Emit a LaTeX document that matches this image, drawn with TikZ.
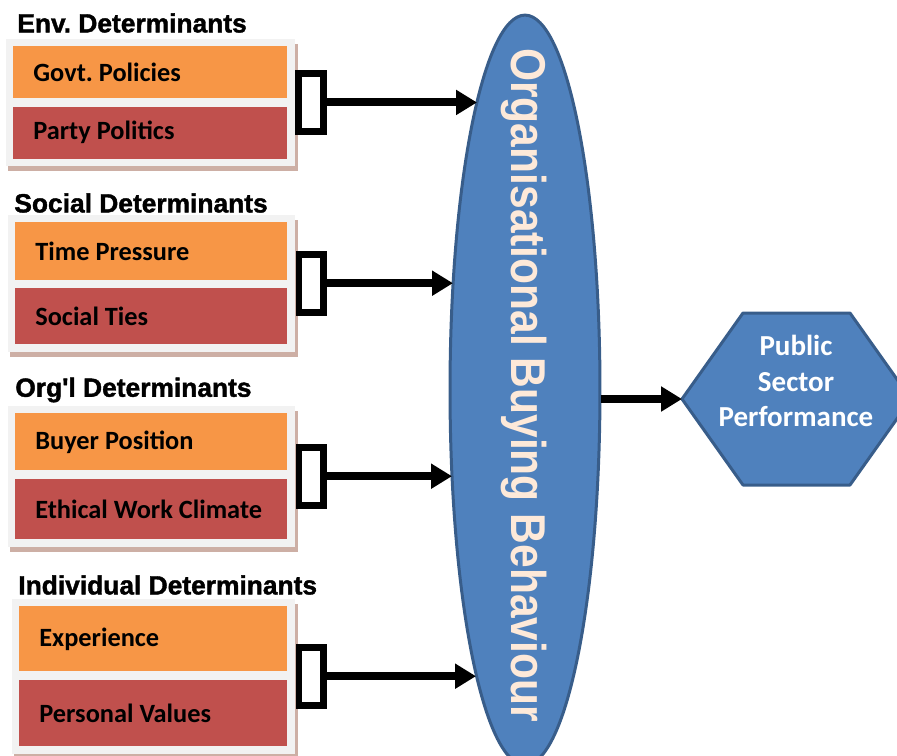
\documentclass[tikz,border=0pt]{standalone}
\usepackage{fontspec}
\setmainfont{Carlito}
\newfontfamily\arialfont{Liberation Sans}
\newfontfamily\headfont[FakeBold=1.5]{Liberation Sans Bold}
\usetikzlibrary{positioning,fit,backgrounds,shadows,shapes.geometric,arrows.meta}

\definecolor{factorange}{HTML}{F79646}
\definecolor{factred}{HTML}{C0504D}
\definecolor{panelgray}{HTML}{F2F2F2}
\definecolor{shapeblue}{HTML}{4F81BD}
\definecolor{shapeedge}{HTML}{385D8A}
\definecolor{peach}{HTML}{FDE9D9}
\definecolor{shadowbrown}{RGB}{205,175,165}

\begin{document}
\frenchspacing
\begin{tikzpicture}[x=0.02cm,y=-0.02cm,>=latex,
    factor/.style={anchor=north west,inner sep=0pt,minimum width=#1},
    factortext/.style={anchor=west,xshift=0.4cm,inner sep=0pt,font=\fontsize{15}{18}\selectfont\bfseries},
    upper/.style={fill=factorange},
    lower/.style={fill=factred},
    panel/.style={fill=panelgray,inner sep=0.15cm,
      drop shadow={shadow xshift=0.05cm,shadow yshift=-0.1cm,fill=shadowbrown,opacity=1}},
    heading/.style={anchor=west,inner sep=0pt,font=\headfont\fontsize{15}{18}\selectfont},
    link/.style={draw,fill=white,line width=0.14cm,minimum width=0.5cm,minimum height=1.16cm,inner sep=0pt},
    arr/.style={line width=0.16cm,-{Triangle[length=0.42cm,width=0.48cm]}},
    shapecol/.style={fill=shapeblue,draw=shapeedge,line width=0.06cm,line join=round}]
  \useasboundingbox (0,0) rectangle (897,755);

  % the central ellipse
  \node[ellipse,shapecol,minimum width=3cm,minimum height=15cm,inner sep=0pt] (obb) at (525,390) {};
  \node[rotate=-90,text=peach,inner sep=0pt,font=\arialfont\fontsize{24.2}{29}\selectfont\bfseries] (obbtext)
    at (524,385) {\scalebox{1}[1.15]{Organisational Buying Behaviour}};

  % where the arrows meet the ellipse
  \coordinate (inenv) at (477,0);
  \coordinate (insoc) at (453,0);
  \coordinate (inorg) at (452,0);
  \coordinate (inind) at (476,0);

  % environmental determinants
  \node[heading] (envtitle) at (17,23) {Env. Determinants};
  \node[factor=5.48cm,upper,minimum height=1.04cm] (gov) at (13,46) {};
  \node[factor=5.48cm,lower,minimum height=1.04cm,below=0.15cm of gov] (party) {};
  \node[factortext] (govtext) at (gov.west) {Govt. Policies};
  \node[factortext] (partytext) at (party.west) {Party Politics};

  % social determinants
  \node[heading] (soctitle) at (14,203) {Social Determinants};
  \node[factor=5.44cm,upper,minimum height=1.16cm] (time) at (15,222) {};
  \node[factor=5.44cm,lower,minimum height=1.12cm,below=0.14cm of time] (ties) {};
  \node[factortext] (timetext) at (time.west) {Time Pressure};
  \node[factortext] (tiestext) at (ties.west) {Social Ties};

  % organisational determinants
  \node[heading] (orgtitle) at (15,390) {Org'l Determinants};
  \node[factor=5.44cm,upper,minimum height=1.14cm] (buyer) at (15,413) {};
  \node[factor=5.44cm,lower,minimum height=1.2cm,below=0.16cm of buyer] (climate) {};
  \node[factortext] (buyertext) at (buyer.west) {Buyer Position};
  \node[factortext] (climatetext) at (climate.west) {Ethical Work Climate};

  % individual determinants
  \node[heading] (indtitle) at (18,585) {Individual Determinants};
  \node[factor=5.36cm,upper,minimum height=1.3cm] (exp) at (19,606) {};
  \node[factor=5.36cm,lower,minimum height=1.32cm,below=0.16cm of exp] (values) {};
  \node[factortext] (exptext) at (exp.west) {Experience};
  \node[factortext] (valuestext) at (values.west) {Personal Values};

  % grey panels behind each pair
  \begin{scope}[on background layer]
    \node[panel,fit=(gov)(party)] (envbox) {};
    \node[panel,fit=(time)(ties)] (socbox) {};
    \node[panel,fit=(buyer)(climate)] (orgbox) {};
    \node[panel,fit=(exp)(values)] (indbox) {};
  \end{scope}

  % brackets and arrows into the ellipse
  \node[link,right=0pt of envbox] (brkenv) {};
  \node[link,right=0pt of socbox] (brksoc) {};
  \node[link,right=0pt of orgbox] (brkorg) {};
  \node[link,right=0pt of indbox] (brkind) {};
  \draw[arr] (brkenv.east) -- (brkenv.east -| inenv);
  \draw[arr] (brksoc.east) -- (brksoc.east -| insoc);
  \draw[arr] (brkorg.east) -- (brkorg.east -| inorg);
  \draw[arr] (brkind.east) -- (brkind.east -| inind);

  % the outcome hexagon
  \coordinate (perfleft) at (682,399);
  \draw[shapecol] (perfleft) -- (743,313) -- (850,313) -- (911,399) -- (850,485) -- (743,485) -- cycle;
  \node[align=center,text=white,font=\fontsize{16.5}{20.4}\selectfont\bfseries] (perf) at (796,381)
    {Public\\Sector\\Performance};
  \draw[arr] (obb.east |- perfleft) -- (perfleft);
\end{tikzpicture}
\end{document}
